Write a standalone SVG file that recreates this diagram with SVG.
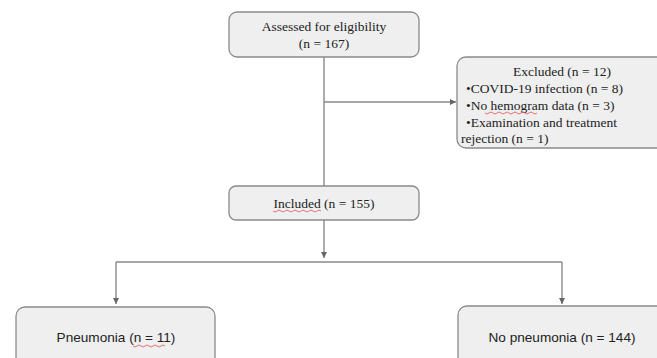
<svg xmlns="http://www.w3.org/2000/svg" width="657" height="358" viewBox="0 0 657 358">
<defs>
<marker id="arr" markerWidth="8" markerHeight="8" refX="6" refY="3" orient="auto" markerUnits="userSpaceOnUse">
<path d="M0,0 L6,3 L0,6 Z" fill="#666"/>
</marker>
<style>
.box{fill:#efefef;stroke:#8a8a8a;stroke-width:1.3}
.serif{font-family:"Liberation Serif","Times New Roman",serif;font-size:13.5px;fill:#222}
.sans{font-family:"Liberation Sans",Arial,sans-serif;font-size:13.6px;fill:#222}
.ln{fill:none;stroke:#8a8a8a;stroke-width:1.4}
.sq{fill:none;stroke:#e05050;stroke-width:0.8}
</style>
</defs>
<rect width="657" height="358" fill="#ffffff"/>
<g id="connectors">
<path class="ln" d="M324,57 V187"/>
<path class="ln" d="M324,102 H456" marker-end="url(#arr)"/>
<path class="ln" d="M324,220 V258" marker-end="url(#arr)"/>
<path class="ln" d="M116,262 H562"/>
<path class="ln" d="M116,262 V304" marker-end="url(#arr)"/>
<path class="ln" d="M562,262 V304" marker-end="url(#arr)"/>
</g>
<g id="assessed">
<rect class="box" x="229" y="12" width="190" height="45" rx="8"/>
<text class="serif" x="324" y="31" text-anchor="middle">Assessed for eligibility</text>
<text class="serif" x="324" y="48" text-anchor="middle">(n = 167)</text>
</g>
<g id="excluded">
<rect class="box" x="457" y="57" width="215" height="91" rx="9"/>
<text class="serif" x="562" y="76" text-anchor="middle">Excluded (n = 12)</text>
<text class="serif" x="466" y="93">•COVID-19 infection (n = 8)</text>
<text class="serif" x="466" y="110">•No hemogram data (n = 3)</text>
<text class="serif" x="466" y="127">•Examination and treatment</text>
<text class="serif" x="461" y="143">rejection (n = 1)</text>
<path class="sq" d="M485,113 q2,2 4,0 t4,0 t4,0 t4,0 t4,0 t4,0 t4,0 t4,0 t4,0 t4,0 t4,0 t4,0 t4,0"/>
</g>
<g id="included">
<rect class="box" x="229" y="186" width="190" height="34" rx="7"/>
<text class="serif" x="324" y="208" text-anchor="middle">Included (n = 155)</text>
<path class="sq" d="M273,211 q2,2 4,0 t4,0 t4,0 t4,0 t4,0 t4,0 t4,0 t4,0 t4,0 t4,0 t4,0 t4,0"/>
</g>
<g id="pneumonia">
<rect class="box" x="16" y="307" width="199" height="60" rx="9"/>
<text class="sans" x="116" y="342" text-anchor="middle">Pneumonia (n = 11)</text>
<path class="sq" d="M133,346 q2,2 4,0 t4,0 t4,0 t4,0 t4,0 t4,0 t4,0 t4,0"/>
</g>
<g id="no-pneumonia">
<rect class="box" x="458" y="306" width="215" height="61" rx="9"/>
<text class="sans" x="562" y="342" text-anchor="middle">No pneumonia (n = 144)</text>
</g>
</svg>
